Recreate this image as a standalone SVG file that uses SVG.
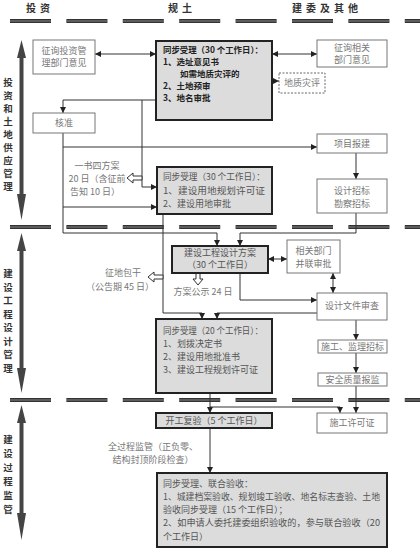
<svg xmlns="http://www.w3.org/2000/svg" width="420" height="554" viewBox="0 0 420 554">
<style>
text{font-family:"Noto Sans CJK SC","Liberation Sans",sans-serif;font-size:9px}
.hdr{font-size:10px;font-weight:bold;fill:#333;letter-spacing:4px;text-anchor:middle}
.side{font-size:9.5px;font-weight:bold;fill:#333;text-anchor:middle}
.wbox{fill:#fff;stroke:#777;stroke-width:1}
.gbox{fill:#dcdcdc;stroke:#222;stroke-width:2}
.dbox{fill:#fff;stroke:#666;stroke-width:1;stroke-dasharray:2 1.5}
.wt{fill:#777;text-anchor:middle}
.gt{fill:#555}
.gtc{fill:#555;text-anchor:middle}
.bt{fill:#222;font-weight:bold;font-size:8.5px}
.note{fill:#777;text-anchor:middle}
.sep{stroke:#333;stroke-width:4;stroke-dasharray:41 15.4}
.sep2{stroke:#888;stroke-width:1;stroke-dasharray:41 15.4}
.con{fill:none;stroke:#333;stroke-width:1}
.hol{fill:#fff;stroke:#333;stroke-width:1}
.big{fill:#444}
</style>
<defs>
<marker id="ah" markerWidth="6" markerHeight="6" refX="6" refY="3" orient="auto-start-reverse" markerUnits="userSpaceOnUse">
<path d="M0,0 L6,3 L0,6 z" fill="#222"/>
</marker>
</defs>

<!-- headers -->
<text class="hdr" x="40" y="12">投资</text>
<text class="hdr" x="182" y="12">规土</text>
<text class="hdr" x="327" y="12">建委及其他</text>

<!-- separators -->
<g id="separators">
<line class="sep" x1="10" y1="21" x2="420" y2="21"/>
<line class="sep2" x1="10" y1="21" x2="420" y2="21"/>
<line class="sep" x1="10" y1="227" x2="420" y2="227"/>
<line class="sep2" x1="10" y1="227" x2="420" y2="227"/>
<line class="sep" x1="10" y1="400" x2="420" y2="400"/>
<line class="sep2" x1="10" y1="400" x2="420" y2="400"/>
</g>

<!-- side arrows and labels -->
<g id="side1">
<polygon class="big" points="21.5,40 26,58 23.5,58 23.5,194 26,194 21.5,220 17,194 19.5,194 19.5,58 17,58"/>
<text class="side"><tspan x="8" y="86">投</tspan><tspan x="8" y="99">资</tspan><tspan x="8" y="112">和</tspan><tspan x="8" y="125">土</tspan><tspan x="8" y="138">地</tspan><tspan x="8" y="151">供</tspan><tspan x="8" y="164">应</tspan><tspan x="8" y="177">管</tspan><tspan x="8" y="190">理</tspan></text>
</g>
<g id="side2">
<polygon class="big" points="21.5,233 26,251 23.5,251 23.5,368 26,368 21.5,393 17,368 19.5,368 19.5,251 17,251"/>
<text class="side"><tspan x="8" y="277">建</tspan><tspan x="8" y="290.5">设</tspan><tspan x="8" y="304">工</tspan><tspan x="8" y="317.5">程</tspan><tspan x="8" y="331">设</tspan><tspan x="8" y="344.5">计</tspan><tspan x="8" y="358">管</tspan><tspan x="8" y="371.5">理</tspan></text>
</g>
<g id="side3">
<polygon class="big" points="21.5,405 26,423 23.5,423 23.5,513 26,513 21.5,540 17,513 19.5,513 19.5,423 17,423"/>
<text class="side"><tspan x="8" y="443">建</tspan><tspan x="8" y="457">设</tspan><tspan x="8" y="471">过</tspan><tspan x="8" y="485">程</tspan><tspan x="8" y="499">监</tspan><tspan x="8" y="513">管</tspan></text>
</g>

<!-- connectors -->
<g id="connectors">
<path class="con" d="M95,54 H156" marker-start="url(#ah)" marker-end="url(#ah)"/>
<path class="con" d="M272,54 H317" marker-start="url(#ah)" marker-end="url(#ah)"/>
<path class="con" d="M242,81 H279" stroke-dasharray="2 2" marker-start="url(#ah)" marker-end="url(#ah)"/>
<path class="con" d="M156,100 H63 V113" marker-end="url(#ah)"/>
<path class="con" d="M142,100 V187 H157" marker-end="url(#ah)"/>
<path class="con" d="M63,133 V233 H217 V246" marker-end="url(#ah)"/>
<path class="con" d="M63,147 H317" marker-end="url(#ah)"/>
<path class="con" d="M63,207 H157" marker-end="url(#ah)"/>
<path class="con" d="M356,153 V179" marker-end="url(#ah)"/>
<path class="con" d="M356,213 V233 H240 V246" marker-end="url(#ah)"/>
<path class="con" d="M163,214 V313 H202 V319" marker-end="url(#ah)"/>
<path class="con" d="M268,259 H287" marker-start="url(#ah)" marker-end="url(#ah)"/>
<path class="con" d="M333,273 V293" marker-start="url(#ah)" marker-end="url(#ah)"/>
<path class="con" d="M240,273 V300 H317" marker-end="url(#ah)"/>
<path class="con" d="M317,313 H217 V319" marker-end="url(#ah)"/>
<path class="con" d="M356,320 V340" marker-end="url(#ah)"/>
<path class="con" d="M356,353 V373" marker-end="url(#ah)"/>
<path class="con" d="M356,386 V413" marker-end="url(#ah)"/>
<path class="con" d="M210,393 V413" marker-end="url(#ah)"/>
<path class="con" d="M210,407 H340 V413" marker-end="url(#ah)"/>
<path class="con" d="M210,428 V473" marker-end="url(#ah)"/>
<!-- hollow arrows -->
<polygon class="hol" points="127,178 133,173 133,176 142,176 142,180 133,180 133,183"/>
<polygon class="hol" points="148,277 154,272 154,275 163,275 163,279 154,279 154,282"/>
<polygon class="hol" points="198,285 193,279 196,279 196,273 200,273 200,279 203,279"/>
</g>

<!-- nodes -->
<g id="n-zxtz">
<rect class="wbox" x="33" y="40" width="62" height="34"/>
<text class="wt" x="64" y="54">征询投资管</text>
<text class="wt" x="64" y="66">理部门意见</text>
</g>

<g id="n-sync30a">
<rect class="gbox" x="156" y="41" width="116" height="79"/>
<text class="bt" x="163" y="53" textLength="100" lengthAdjust="spacingAndGlyphs">同步受理（30 个工作日）：</text>
<text class="bt" x="163" y="65">1、选址意见书</text>
<text class="bt" x="180" y="77">如需地质灾评的</text>
<text class="bt" x="163" y="89">2、土地预审</text>
<text class="bt" x="163" y="101">3、地名审批</text>
</g>

<g id="n-zxxg">
<rect class="wbox" x="317" y="40" width="70" height="27"/>
<text class="wt" x="352" y="51">征询相关</text>
<text class="wt" x="352" y="63">部门意见</text>
</g>

<g id="n-dzzp">
<rect class="dbox" x="279" y="73" width="46" height="20"/>
<text class="wt" x="302" y="86">地质灾评</text>
</g>

<g id="n-hz">
<rect class="wbox" x="33" y="113" width="62" height="20"/>
<text class="wt" x="64" y="126">核准</text>
</g>

<g id="n-xmbj">
<rect class="wbox" x="317" y="134" width="70" height="19"/>
<text class="wt" x="352" y="147">项目报建</text>
</g>

<g id="n-sjzb">
<rect class="wbox" x="317" y="179" width="70" height="34"/>
<text class="wt" x="352" y="194">设计招标</text>
<text class="wt" x="352" y="207">勘察招标</text>
</g>

<g id="n-ysfa">
<text class="note" x="97" y="169">一书四方案</text>
<text class="note" x="97" y="182">20 日（含征前</text>
<text class="note" x="95" y="195">告知 10 日）</text>
</g>

<g id="n-sync30b">
<rect class="gbox" x="157" y="167" width="115" height="47"/>
<text class="gt" x="163" y="180" textLength="102" lengthAdjust="spacingAndGlyphs">同步受理（30 个工作日）：</text>
<text class="gt" x="163" y="194" textLength="102" lengthAdjust="spacingAndGlyphs">1、建设用地规划许可证</text>
<text class="gt" x="163" y="207">2、建设用地审批</text>
</g>

<g id="n-zdbg">
<text class="note" x="123" y="276">征地包干</text>
<text class="note" x="120" y="290">（公告期 45 日）</text>
</g>

<g id="n-sjfa">
<rect class="gbox" x="172" y="246" width="96" height="27"/>
<text class="gtc" x="220" y="256">建设工程设计方案</text>
<text class="gtc" x="220" y="268">（30 个工作日）</text>
</g>

<g id="n-fags">
<text class="note" x="203" y="295">方案公示 24 日</text>
</g>

<g id="n-xgbm">
<rect class="wbox" x="287" y="240" width="53" height="33"/>
<text class="wt" x="313.5" y="254">相关部门</text>
<text class="wt" x="313.5" y="267">并联审批</text>
</g>

<g id="n-sjwj">
<rect class="wbox" x="317" y="293" width="70" height="27"/>
<text class="wt" x="352" y="309">设计文件审查</text>
</g>

<g id="n-sync20">
<rect class="gbox" x="156" y="319" width="116" height="74"/>
<text class="gt" x="163" y="334" textLength="100" lengthAdjust="spacingAndGlyphs">同步受理（20 个工作日）：</text>
<text class="gt" x="163" y="347" font-size="8.3">1、划拨决定书</text>
<text class="gt" x="163" y="360" font-size="8.3">2、建设用地批准书</text>
<text class="gt" x="163" y="373" font-size="8.3">3、建设工程规划许可证</text>
</g>

<g id="n-sgjl">
<rect class="wbox" x="318" y="340" width="69" height="13"/>
<text class="wt" x="352.5" y="350">施工、监理招标</text>
</g>

<g id="n-aqzl">
<rect class="wbox" x="318" y="373" width="69" height="13"/>
<text class="wt" x="352.5" y="383">安全质量报监</text>
</g>

<g id="n-sgxk">
<rect class="wbox" x="317" y="413" width="70" height="20"/>
<text class="wt" x="352" y="426">施工许可证</text>
</g>

<g id="n-kgfy">
<rect class="gbox" x="156" y="413" width="116" height="15"/>
<text class="gtc" x="214" y="424">开工复验（5 个工作日）</text>
</g>

<g id="n-qgc">
<text class="note" x="153" y="450">全过程监管（正负零、</text>
<text class="note" x="153" y="463">结构封顶阶段检查）</text>
</g>

<g id="n-lhys">
<rect class="gbox" x="157" y="473" width="230" height="74"/>
<text class="gt" x="163" y="487" font-size="8.8">同步受理、联合验收：</text>
<text class="gt" x="163" y="500" font-size="8.8" textLength="217" lengthAdjust="spacingAndGlyphs">1、城建档案验收、规划竣工验收、地名标志查验、土地</text>
<text class="gt" x="163" y="513" font-size="8.8">验收同步受理（15 个工作日）；</text>
<text class="gt" x="163" y="526" font-size="8.8" textLength="217" lengthAdjust="spacingAndGlyphs">2、如申请人委托建委组织验收的，参与联合验收（20</text>
<text class="gt" x="163" y="540" font-size="8.8">个工作日）</text>
</g>
</svg>
